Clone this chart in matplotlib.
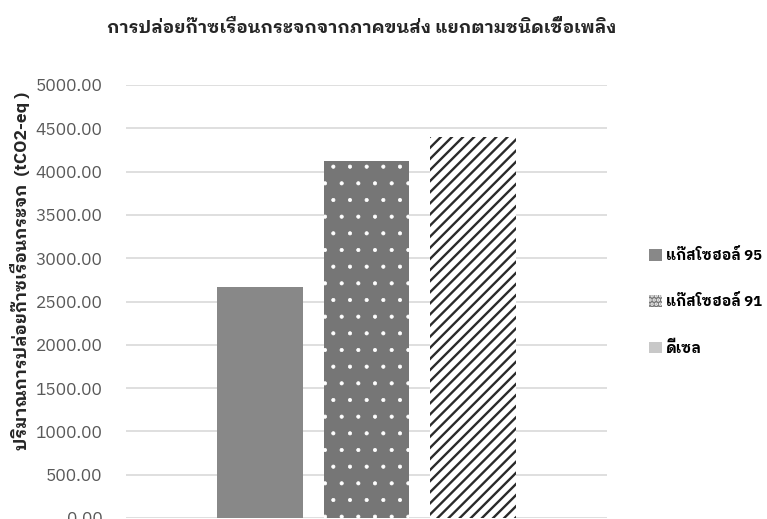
import matplotlib
matplotlib.use("Agg")
import matplotlib.pyplot as plt
from matplotlib.patches import Patch

plt.rcParams['font.family'] = ['IBM Plex Sans Thai Looped', 'Noto Sans', 'DejaVu Sans']

# emissions by fuel type (tCO2-eq)
fuels = ['แก๊สโซฮอล์ 95', 'แก๊สโซฮอล์ 91', 'ดีเซล']
emissions = [2670.0, 4120.0, 4400.0]
yticks = [0, 500, 1000, 1500, 2000, 2500, 3000, 3500, 4000, 4500, 5000]

title = 'การปล่อยก๊าซเรือนกระจกจากภาคขนส่ง แยกตามชนิดเชื้อเพลิง'
ylabel = 'ปริมาณการปล่อยก๊าซเรือนกระจก  (tCO2-eq )'

fig = plt.figure(figsize=(7.67, 5.19), dpi=100)
ax = fig.add_axes([126 / 767, 1 / 519, 481 / 767, 433 / 519])

xs = [-1, 0, 1]
styles = [
    dict(facecolor='#888888', edgecolor='#888888', hatch=None, hlw=1.0),
    dict(facecolor='#767676', edgecolor='white', hatch='.', hlw=0.5),
    dict(facecolor='white', edgecolor='#2a2a2a', hatch='///', hlw=1.7),
]
for x, v, st in zip(xs, emissions, styles):
    plt.rcParams['hatch.linewidth'] = st['hlw']
    b = ax.bar(x, v, width=0.8, facecolor=st['facecolor'], edgecolor=st['edgecolor'],
               hatch=st['hatch'], linewidth=0, zorder=2)
    for p in b:
        if hasattr(p, 'set_hatch_linewidth'):
            p.set_hatch_linewidth(st['hlw'])

ax.set_xlim(-2.258, 2.258)
ax.set_ylim(0, 5000)
ax.set_yticks(yticks)
ax.set_yticklabels(['%.2f' % t for t in yticks])
ax.set_xticks([])
ax.tick_params(axis='y', length=0, pad=17, labelsize=12.5, labelcolor='#595959')
ax.grid(axis='y', color='#d9d9d9', linewidth=1.2, zorder=0)
ax.set_axisbelow(True)
for s in ax.spines.values():
    s.set_visible(False)

fig.text(362 / 767, 1 - 28 / 519, title, ha='center', va='center',
         fontsize=12.75, fontweight='bold', color='#262626')
fig.text(20 / 767, 1 - 271 / 519, ylabel, ha='center', va='center', rotation=90,
         fontsize=12.5, fontweight='bold', color='#262626')

handles = [
    Patch(facecolor='#888888', edgecolor='none'),
    Patch(facecolor='#767676', edgecolor='white', hatch='....', linewidth=0),
    Patch(facecolor='#c8c8c8', edgecolor='none'),
]
fig.legend(handles, fuels, loc='center left', bbox_to_anchor=(636 / 767, 1 - 302 / 519),
           frameon=False, labelspacing=2.1, handlelength=0.85,
           handleheight=0.85, handletextpad=0.3, prop={'weight': 'bold', 'size': 10.6})

fig.savefig('out.png')
